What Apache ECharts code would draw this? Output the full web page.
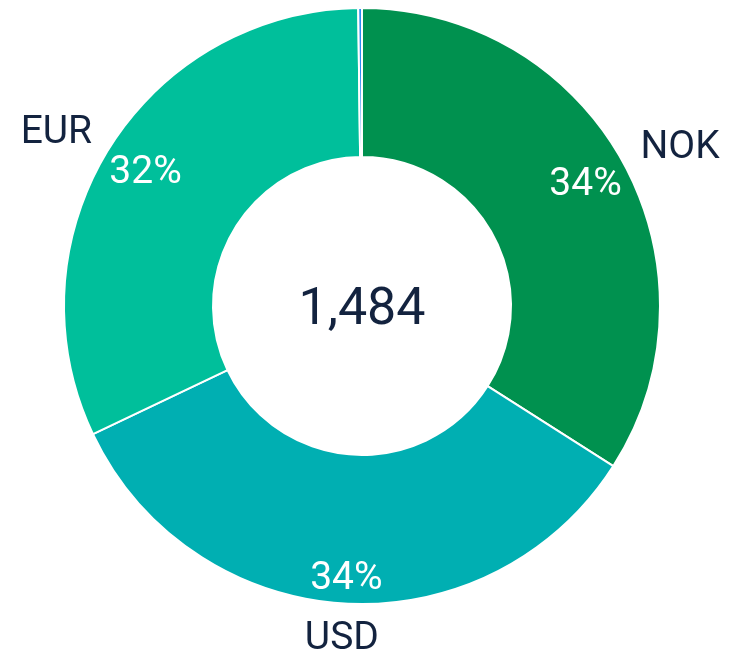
<!DOCTYPE html>
<html>
<head>
<meta charset="utf-8">
<script src="https://cdn.jsdelivr.net/npm/echarts@6/dist/echarts.min.js"></script>
<style>
  html, body { margin: 0; padding: 0; background: #fff; }
  #container { width: 731px; height: 652px; }
</style>
</head>
<body>
<div id="container"></div>
<script>
var dom = document.getElementById("container");
var myChart = echarts.init(dom);

// currency split
var names = ['NOK', 'USD', 'EUR', 'Other'];
var values = [505, 503, 473, 3];
var colors = ['#00914f', '#00afb2', '#00bf9b', '#2a8cf0'];
var total = '1,484';

var textColor = '#13233f';
var font = 'Roboto';

var pieData = names.map(function (n, i) {
    return {
        name: n,
        value: values[i],
        itemStyle: {color: colors[i]},
        label: {show: i < 3}
    };
});

var option = {
    animation: false,
    title: {
        text: total,
        left: 362,
        top: 285,
        textAlign: 'center',
        padding: 0,
        textStyle: {
            color: textColor,
            fontFamily: font,
            fontWeight: 'normal',
            fontSize: 52,
            lineHeight: 52
        }
    },
    series: [
        {
            type: 'pie',
            center: [362, 306],
            radius: [149, 298],
            startAngle: 90,
            clockwise: true,
            avoidLabelOverlap: false,
            itemStyle: {borderColor: '#fff', borderWidth: 2},
            label: {
                position: 'outside',
                formatter: '{b}',
                color: textColor,
                fontFamily: font,
                fontSize: 39
            },
            labelLine: {show: false, length: 14, length2: 0},
            labelLayout: function (p) {
                // bottom label sits centred under the ring
                if (p.dataIndex === 1) return {align: 'center', verticalAlign: 'top', dx: 4, dy: 2};
                return {dy: -8};
            },
            emphasis: {disabled: true},
            data: pieData
        },
        {
            // percentage labels only
            type: 'pie',
            center: [362, 306],
            radius: [206, 298],
            startAngle: 90,
            clockwise: true,
            silent: true,
            avoidLabelOverlap: false,
            itemStyle: {color: 'rgba(0,0,0,0)'},
            label: {
                position: 'inside',
                formatter: function (p) { return Math.round(p.percent) + '%'; },
                color: '#fff',
                fontFamily: font,
                fontSize: 39
            },
            labelLayout: function (p) {
                if (p.dataIndex === 1) return {dy: 19};
                return {dy: 2};
            },
            labelLine: {show: false},
            data: pieData.map(function (d) {
                return {name: d.name, value: d.value, label: d.label};
            })
        }
    ]
};

myChart.setOption(option, true);
</script>
</body>
</html>
